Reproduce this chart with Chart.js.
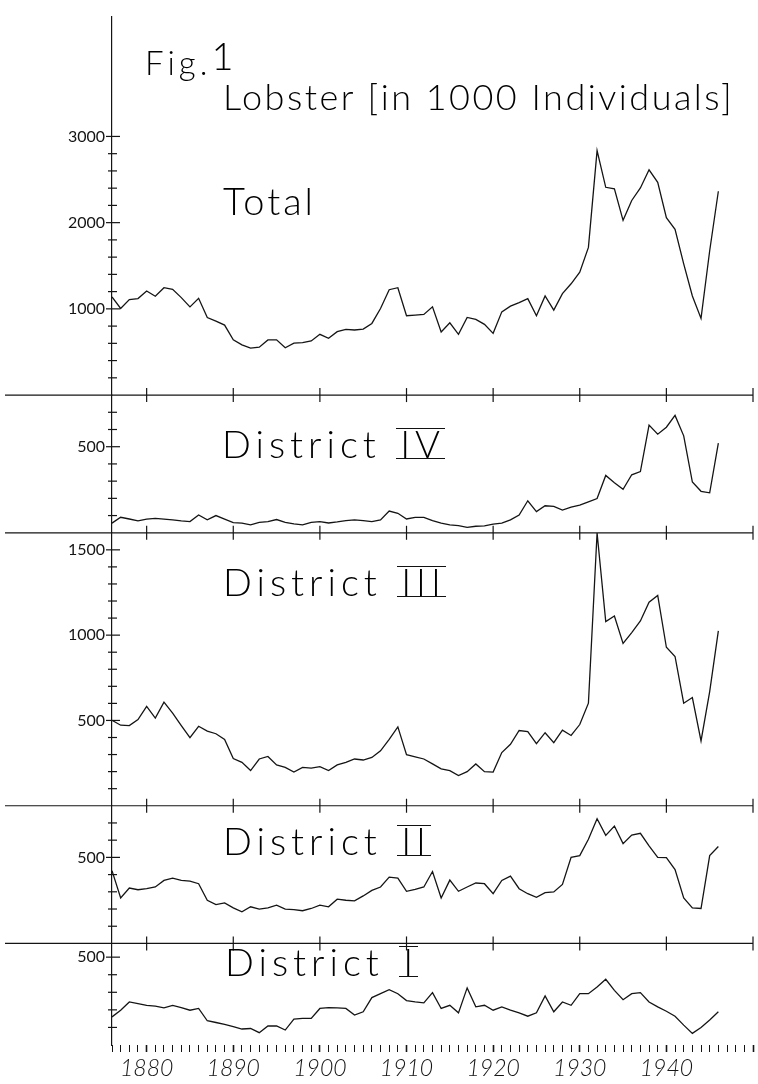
<!DOCTYPE html>
<html>
<head>
<meta charset="utf-8">
<title>Fig.1 Lobster</title>
<script src="https://cdn.jsdelivr.net/npm/chart.js@4.4.0/dist/chart.umd.min.js"></script>
<style>
  html, body { margin: 0; padding: 0; background: #fff; }
  #wrap { position: relative; width: 758px; height: 1084px; overflow: hidden; }
  #chart { position: absolute; left: 0; top: 0; }
  .lbl { position: absolute; font-family: Lato, "DejaVu Sans", sans-serif; font-weight: 300; color: #000; white-space: nowrap; line-height: 1; }
  .rn { display: inline-block; border-top: 1.3px solid #111; border-bottom: 1.3px solid #111; line-height: 0.76em; padding-left: 4px; }
</style>
</head>
<body>
<div id="wrap">
  <canvas id="chart" width="758" height="1084"></canvas>
  <div class="lbl" style="left:145px; top:36px; font-size:33px; letter-spacing:4px;">Fig.<span style="font-size:38px; vertical-align:5px;">1</span></div>
  <div class="lbl" style="left:223px; top:78px; font-size:36px; letter-spacing:2.5px;">Lobster [in 1000 Individuals]</div>
  <div class="lbl" style="left:223px; top:181px; font-size:38px; letter-spacing:3px;">Total</div>
  <div class="lbl" style="left:222px; top:424px; font-size:38px; letter-spacing:5px;">District <span class="rn">IV</span></div>
  <div class="lbl" style="left:223px; top:562px; font-size:38px; letter-spacing:5px;">District <span class="rn">III</span></div>
  <div class="lbl" style="left:223px; top:821px; font-size:38px; letter-spacing:5px;">District <span class="rn">II</span></div>
  <div class="lbl" style="left:225px; top:942px; font-size:38px; letter-spacing:5px;">District <span class="rn">I</span></div>
</div>
<script>
// years of the series
const years = [1876, 1877, 1878, 1879, 1880, 1881, 1882, 1883, 1884, 1885,
  1886, 1887, 1888, 1889, 1890, 1891, 1892, 1893, 1894, 1895,
  1896, 1897, 1898, 1899, 1900, 1901, 1902, 1903, 1904, 1905,
  1906, 1907, 1908, 1909, 1910, 1911, 1912, 1913, 1914, 1915,
  1916, 1917, 1918, 1919, 1920, 1921, 1922, 1923, 1924, 1925,
  1926, 1927, 1928, 1929, 1930, 1931, 1932, 1933, 1934, 1935,
  1936, 1937, 1938, 1939, 1940, 1941, 1942, 1943, 1944, 1945, 1946];

// catch in 1000 individuals
const total = [1138, 1004, 1107, 1119, 1207, 1146, 1245, 1226, 1130, 1023,
  1123, 900, 858, 812, 640, 582, 544, 556, 640, 640,
  548, 602, 609, 628, 705, 659, 736, 762, 755, 766,
  831, 1004, 1222, 1245, 920, 927, 935, 1023, 732, 839,
  705, 900, 877, 820, 716, 965, 1031, 1073, 1119, 920,
  1149, 985, 1176, 1291, 1425, 1713, 2835, 2410, 2391, 2027,
  2257, 2402, 2613, 2467, 2057, 1923, 1521, 1149, 889, 1674, 2364];

const districtIV = [56, 90, 80, 69, 79, 84, 79, 75, 69, 65,
  103, 75, 100, 79, 59, 56, 46, 61, 65, 77,
  61, 52, 46, 61, 65, 57, 63, 71, 75, 71,
  65, 75, 126, 113, 80, 90, 90, 71, 56, 46,
  42, 31, 38, 40, 50, 56, 75, 103, 186, 123,
  157, 153, 132, 149, 161, 180, 199, 333, 291, 253,
  337, 356, 626, 573, 613, 682, 563, 295, 241, 232, 521];

const districtIII = [501, 472, 470, 505, 582, 514, 607, 543, 470, 399,
  466, 437, 422, 389, 277, 254, 206, 274, 289, 239,
  225, 197, 225, 220, 229, 206, 239, 254, 274, 268,
  283, 322, 389, 462, 299, 287, 274, 245, 216, 206,
  177, 200, 245, 200, 197, 312, 360, 441, 434, 364,
  428, 370, 443, 412, 476, 601, 1599, 1079, 1112, 952,
  1015, 1083, 1193, 1233, 929, 875, 601, 634, 380, 669, 1025];

const districtII = [423, 264, 322, 312, 318, 328, 366, 379, 366, 362,
  347, 251, 226, 236, 207, 184, 213, 199, 207, 222,
  199, 197, 190, 203, 222, 213, 257, 251, 247, 276,
  308, 328, 385, 379, 303, 314, 328, 418, 264, 368,
  303, 328, 351, 347, 289, 366, 391, 318, 289, 268,
  295, 299, 343, 500, 510, 605, 724, 628, 682, 580,
  630, 640, 567, 500, 498, 429, 264, 207, 203, 510, 563];

const districtI = [160, 198, 245, 236, 226, 221, 211, 225, 213, 198,
  208, 138, 128, 117, 104, 91, 94, 70, 108, 108,
  85, 147, 151, 151, 208, 213, 211, 208, 170, 189,
  270, 292, 315, 292, 253, 245, 240, 298, 208, 226,
  183, 325, 217, 226, 198, 217, 198, 183, 164, 183,
  279, 189, 245, 226, 292, 292, 330, 374, 311, 258,
  292, 298, 245, 217, 192, 164, 113, 66, 100, 142, 189];

// axis ticks and labels
const totalTicks = [200, 400, 600, 800, 1000, 1200, 1400, 1600, 1800, 2000,
  2200, 2400, 2600, 2800, 3000];
const totalLabels = [1000, 2000, 3000];
const smallTicks = [100, 200, 300, 400, 500, 600, 700];
const smallLabels = [500];
const bigTicks = [100, 200, 300, 400, 500, 600, 700, 800, 900, 1000,
  1100, 1200, 1300, 1400, 1500];
const bigLabels = [500, 1000, 1500];
const districtITicks = [100, 200, 300, 400, 500];
const decadeLabels = [1880, 1890, 1900, 1910, 1920, 1930, 1940];
const decadeMarks = [1880, 1890, 1900, 1910, 1920, 1930, 1940, 1950];

const panels = [
  { id: "yTotal", data: total, max: 4390, stackWeight: 382, order: 5, ticks: totalTicks, labels: totalLabels, baseLine: true },
  { id: "yIV", data: districtIV, max: 800, stackWeight: 139, order: 4, ticks: smallTicks, labels: smallLabels, baseLine: true },
  { id: "yIII", data: districtIII, max: 1600, stackWeight: 275.5, order: 3, ticks: bigTicks, labels: bigLabels, baseLine: true },
  { id: "yII", data: districtII, max: 800, stackWeight: 139, order: 2, ticks: smallTicks, labels: smallLabels, baseLine: true },
  { id: "yI", data: districtI, max: 578, stackWeight: 102.5, order: 1, ticks: districtITicks, labels: smallLabels, baseLine: false },
];

const ink = "#141414";

// plotter style tick marks crossing the axes
const plotterAxes = {
  id: "plotterAxes",
  afterDraw(chart) {
    const ctx = chart.ctx;
    const xs = chart.scales.x;
    ctx.save();
    ctx.strokeStyle = ink;
    ctx.lineWidth = 1.2;
    panels.forEach((p) => {
      const s = chart.scales[p.id];
      const ax = chart.chartArea.left;
      s.ticks.forEach((t) => {
        const y = s.getPixelForValue(t.value);
        const major = p.labels.includes(t.value);
        ctx.beginPath();
        ctx.moveTo(ax - (major ? 6 : 4), y);
        ctx.lineTo(ax + (major ? 8 : 5), y);
        ctx.stroke();
      });
      if (p.baseLine) {
        const y0 = s.getPixelForValue(0);
        ctx.beginPath();
        ctx.moveTo(5, y0);
        ctx.lineTo(xs.getPixelForValue(1950), y0);
        ctx.stroke();
        decadeMarks.forEach((yr) => {
          const x = xs.getPixelForValue(yr);
          ctx.beginPath();
          ctx.moveTo(x, y0 - 7);
          ctx.lineTo(x, y0 + 7);
          ctx.stroke();
        });
      }
    });
    ctx.restore();
  },
};

const scales = {
  x: {
    type: "linear",
    min: 1876,
    max: 1950,
    afterFit: (scale) => { scale.height = 39; },
    border: { display: false },
    grid: {
      drawOnChartArea: false,
      drawTicks: true,
      tickLength: 7,
      tickColor: ink,
      tickWidth: (ctx) => (ctx.tick && ctx.tick.value % 10 === 0 ? 1.6 : 1),
    },
    ticks: {
      stepSize: 1,
      maxTicksLimit: 100,
      autoSkip: false,
      maxRotation: 0,
      padding: 3,
      color: ink,
      font: { family: "Lato, 'DejaVu Sans', sans-serif", size: 23, style: "italic", weight: 300 },
      callback: (value) => (decadeLabels.includes(value) ? String(value) : ""),
    },
  },
};

panels.forEach((p) => {
  scales[p.id] = {
    type: "linear",
    position: "left",
    stack: "lobster",
    stackWeight: p.stackWeight,
    weight: p.order,
    min: 0,
    max: p.max,
    afterFit: (scale) => { scale.width = 112; },
    afterBuildTicks: (scale) => { scale.ticks = p.ticks.map((v) => ({ value: v })); },
    border: { display: true, color: ink, width: 1.2 },
    grid: { display: false, drawTicks: false },
    ticks: {
      autoSkip: false,
      padding: 7,
      color: ink,
      font: { family: "Lato, 'DejaVu Sans', sans-serif", size: 16, weight: 400 },
      callback: (value) => (p.labels.includes(value) ? String(value) : ""),
    },
  };
});

new Chart(document.getElementById("chart"), {
  type: "line",
  data: {
    datasets: panels.map((p) => ({
      label: p.id,
      yAxisID: p.id,
      data: years.map((yr, i) => ({ x: yr, y: p.data[i] })),
      borderColor: ink,
      borderWidth: 1.3,
      pointRadius: 0,
      tension: 0,
      fill: false,
    })),
  },
  options: {
    responsive: false,
    animation: false,
    layout: { padding: { top: 7, right: 5, left: 0, bottom: 0 } },
    plugins: { legend: { display: false }, tooltip: { enabled: false } },
    scales: scales,
  },
  plugins: [plotterAxes],
});
</script>
</body>
</html>
